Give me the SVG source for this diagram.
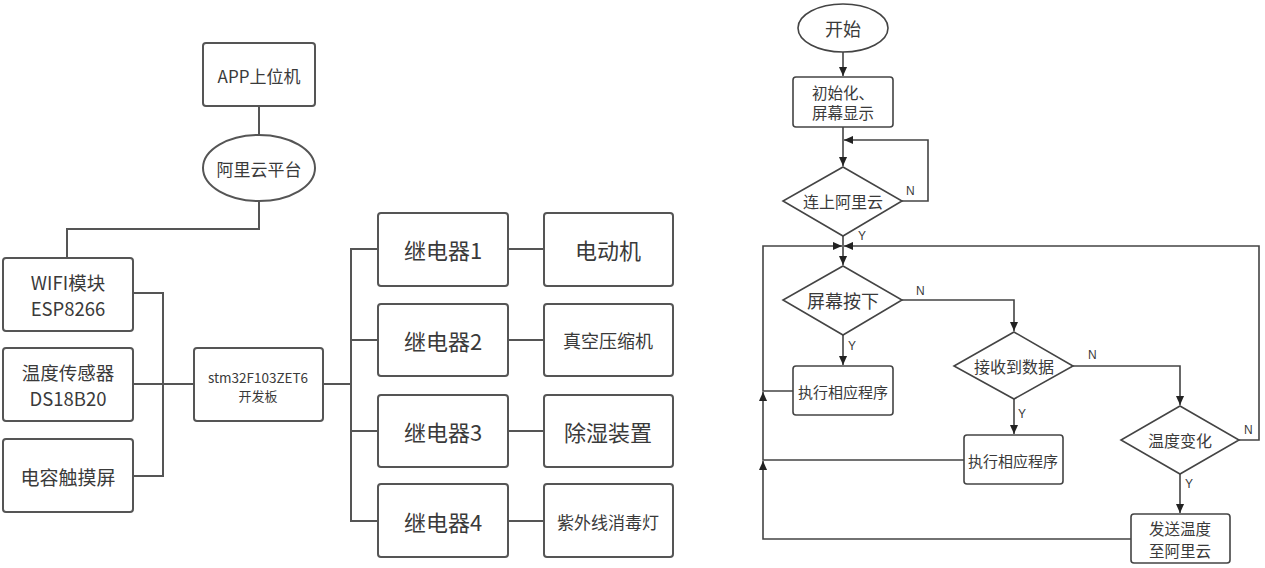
<svg xmlns="http://www.w3.org/2000/svg" width="1265" height="568" viewBox="0 0 1265 568">
<style>
  .bx{fill:#fff;stroke:#555;stroke-width:2}
  .ln{fill:none;stroke:#555;stroke-width:2}
  .fb{fill:#fff;stroke:#444;stroke-width:1.6}
  .fl{fill:none;stroke:#444;stroke-width:1.6}
  text{font-family:"Noto Sans CJK SC","Noto Sans",sans-serif;fill:#3a3a3a;text-anchor:middle;dominant-baseline:central}
  .lb{font-family:"Liberation Sans",Arial,sans-serif;font-size:12px;text-anchor:start}
</style>
<defs>
  <marker id="ah" viewBox="0 0 10 10" refX="10" refY="5" markerWidth="9" markerHeight="9" markerUnits="userSpaceOnUse" orient="auto">
    <path d="M0,0.5 L10,5 L0,9.5 z" fill="#222"/>
  </marker>
</defs>

<!-- Left block diagram connectors -->
<g id="connectors-left">
  <path class="ln" d="M259,106 V135"/>
  <path class="ln" d="M259,201 V229 H67 V258"/>
  <path class="ln" d="M133,293 H163 V476 H133"/>
  <path class="ln" d="M133,384 H194"/>
  <path class="ln" d="M323,384 H351"/>
  <path class="ln" d="M378,249 H351 V521 H378"/>
  <path class="ln" d="M351,340 H378"/>
  <path class="ln" d="M351,431 H378"/>
  <path class="ln" d="M508,249 H544"/>
  <path class="ln" d="M508,340 H544"/>
  <path class="ln" d="M508,431 H544"/>
  <path class="ln" d="M508,521 H544"/>
</g>

<g id="app"><rect class="bx" x="203" y="43" width="112" height="63" rx="3"/><text x="259" y="75" font-size="17">APP上位机</text></g>
<g id="aliyun"><ellipse class="bx" cx="259" cy="168" rx="56" ry="33"/><text x="259" y="168" font-size="17">阿里云平台</text></g>
<g id="wifi"><rect class="bx" x="3" y="258" width="130" height="73" rx="3"/><text x="68" y="282" font-size="18.5">WIFI模块</text><text x="68" y="308" font-size="18.5">ESP8266</text></g>
<g id="temp"><rect class="bx" x="3" y="348" width="130" height="73" rx="3"/><text x="68" y="372" font-size="18.5">温度传感器</text><text x="68" y="398" font-size="18.5">DS18B20</text></g>
<g id="touch"><rect class="bx" x="3" y="439" width="130" height="73" rx="3"/><text x="68" y="476" font-size="19">电容触摸屏</text></g>
<g id="stm"><rect class="bx" x="194" y="348" width="129" height="73" rx="3"/><text x="258" y="377" font-size="13.5">stm32F103ZET6</text><text x="258" y="395" font-size="13">开发板</text></g>

<g id="relay1"><rect class="bx" x="378" y="213" width="130" height="73" rx="3"/><text x="443" y="249" font-size="22">继电器1</text></g>
<g id="relay2"><rect class="bx" x="378" y="304" width="130" height="72" rx="3"/><text x="443" y="340" font-size="22">继电器2</text></g>
<g id="relay3"><rect class="bx" x="378" y="395" width="130" height="72" rx="3"/><text x="443" y="431" font-size="22">继电器3</text></g>
<g id="relay4"><rect class="bx" x="378" y="484" width="130" height="73" rx="3"/><text x="443" y="521" font-size="22">继电器4</text></g>

<g id="motor"><rect class="bx" x="544" y="213" width="129" height="73" rx="3"/><text x="608" y="249" font-size="22">电动机</text></g>
<g id="vacuum"><rect class="bx" x="544" y="304" width="129" height="72" rx="3"/><text x="608" y="340" font-size="18">真空压缩机</text></g>
<g id="dehum"><rect class="bx" x="544" y="395" width="129" height="72" rx="3"/><text x="608" y="431" font-size="22">除湿装置</text></g>
<g id="uv"><rect class="bx" x="544" y="484" width="129" height="73" rx="3"/><text x="608" y="521" font-size="17">紫外线消毒灯</text></g>

<!-- Flowchart connectors -->
<g id="connectors-flow">
  <path class="fl" d="M843,52 V76" marker-end="url(#ah)"/>
  <path class="fl" d="M843,127 V166" marker-end="url(#ah)"/>
  <path class="fl" d="M902,201 H928 V140 H844" marker-end="url(#ah)"/>
  <path class="fl" d="M843,236 V265" marker-end="url(#ah)"/>
  <path class="fl" d="M843,335 V365" marker-end="url(#ah)"/>
  <path class="fl" d="M902,300 H1014 V331" marker-end="url(#ah)"/>
  <path class="fl" d="M1014,399 V434" marker-end="url(#ah)"/>
  <path class="fl" d="M1073,366 H1180 V405" marker-end="url(#ah)"/>
  <path class="fl" d="M1180,474 V513" marker-end="url(#ah)"/>
  <path class="fl" d="M1239,440 H1259 V246 H844" marker-end="url(#ah)"/>
  <path class="fl" d="M1131,539 H763 V461" marker-end="url(#ah)"/>
  <path class="fl" d="M964,460 H763 V392" marker-end="url(#ah)"/>
  <path class="fl" d="M793,391 H763 V246 H842" marker-end="url(#ah)"/>
  <text class="lb" x="906" y="191">N</text>
  <text class="lb" x="858" y="236">Y</text>
  <text class="lb" x="916" y="291">N</text>
  <text class="lb" x="848" y="346">Y</text>
  <text class="lb" x="1088" y="355">N</text>
  <text class="lb" x="1018" y="414">Y</text>
  <text class="lb" x="1244" y="430">N</text>
  <text class="lb" x="1185" y="484">Y</text>
</g>

<g id="start"><ellipse class="fb" cx="843" cy="28" rx="45" ry="24"/><text x="843" y="28" font-size="18">开始</text></g>
<g id="init"><rect class="fb" x="793" y="77" width="100" height="50" rx="3"/><text x="843" y="92" font-size="15.5">初始化、</text><text x="843" y="112" font-size="15.5">屏幕显示</text></g>
<g id="connect"><polygon class="fb" points="843,167 902,201 843,236 783,201"/><text x="843" y="201" font-size="16">连上阿里云</text></g>
<g id="press"><polygon class="fb" points="843,266 902,300 843,335 783,300"/><text x="843" y="300" font-size="18">屏幕按下</text></g>
<g id="exec1"><rect class="fb" x="793" y="366" width="100" height="49" rx="3"/><text x="843" y="391" font-size="15">执行相应程序</text></g>
<g id="recv"><polygon class="fb" points="1014,332 1073,366 1014,399 954,366"/><text x="1014" y="366" font-size="16">接收到数据</text></g>
<g id="exec2"><rect class="fb" x="964" y="435" width="99" height="49" rx="3"/><text x="1013" y="460" font-size="15">执行相应程序</text></g>
<g id="tempchg"><polygon class="fb" points="1180,406 1239,440 1180,474 1121,440"/><text x="1180" y="440" font-size="16">温度变化</text></g>
<g id="send"><rect class="fb" x="1131" y="514" width="99" height="49" rx="3"/><text x="1180" y="528" font-size="15.5">发送温度</text><text x="1180" y="550" font-size="15.5">至阿里云</text></g>
</svg>
